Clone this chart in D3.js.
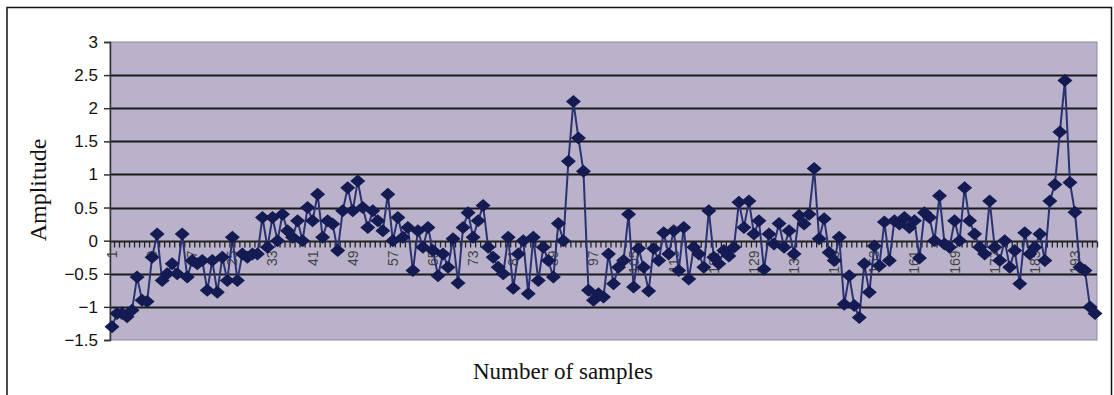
<!DOCTYPE html>
<html>
<head>
<meta charset="utf-8">
<script src="https://cdn.jsdelivr.net/npm/d3@7"></script>
<style>
  body { margin: 0; background: #fff; }
  svg { display: block; }
</style>
</head>
<body>
<svg id="chart" width="1114" height="395"></svg>
<script>
// Amplitude per sample
const amplitude = [
  -1.3, -1.1, -1.1, -1.15, -1.05, -0.55, -0.9, -0.92,
  -0.25, 0.1, -0.6, -0.5, -0.35, -0.5, 0.1, -0.55,
  -0.3, -0.35, -0.3, -0.75, -0.3, -0.78, -0.25, -0.6,
  0.05, -0.6, -0.2, -0.25, -0.2, -0.2, 0.35, -0.1,
  0.35, 0.0, 0.4, 0.15, 0.05, 0.3, 0.0, 0.5,
  0.3, 0.7, 0.05, 0.3, 0.25, -0.15, 0.45, 0.8,
  0.45, 0.9, 0.5, 0.2, 0.45, 0.3, 0.15, 0.7,
  0.0, 0.35, 0.05, 0.2, -0.45, 0.15, -0.1, 0.2,
  -0.15, -0.53, -0.2, -0.4, 0.03, -0.64, 0.2, 0.42,
  0.05, 0.3, 0.53, -0.1, -0.25, -0.4, -0.5, 0.05,
  -0.72, -0.2, 0.0, -0.8, 0.05, -0.6, -0.1, -0.3,
  -0.55, 0.26, 0.0, 1.2, 2.1, 1.55, 1.05, -0.75,
  -0.9, -0.8, -0.85, -0.2, -0.65, -0.4, -0.3, 0.4,
  -0.7, -0.12, -0.4, -0.76, -0.12, -0.3, 0.12, -0.2,
  0.15, -0.45, 0.2, -0.58, -0.1, -0.2, -0.4, 0.45,
  -0.25, -0.35, -0.15, -0.23, -0.1, 0.58, 0.2, 0.6,
  0.1, 0.3, -0.43, 0.1, -0.05, 0.26, -0.1, 0.15,
  -0.2, 0.38, 0.25, 0.4, 1.09, 0.03, 0.33, -0.18,
  -0.3, 0.05, -0.96, -0.53, -0.98, -1.16, -0.35, -0.78,
  -0.08, -0.38, 0.28, -0.3, 0.3, 0.25, 0.35, 0.2,
  0.3, -0.26, 0.42, 0.35, 0.0, 0.68, -0.05, -0.1,
  0.3, 0.0, 0.8, 0.3, 0.1, -0.1, -0.2, 0.6,
  -0.1, -0.3, 0.0, -0.4, -0.15, -0.65, 0.12, -0.2,
  -0.1, 0.1, -0.3, 0.6, 0.85, 1.64, 2.42, 0.88,
  0.43, -0.4, -0.45, -1.0, -1.1
];
const samples = amplitude.map((d, i) => i + 1);
const yTicks = [-1.5, -1, -0.5, 0, 0.5, 1, 1.5, 2, 2.5, 3];
const xLabels = samples.filter(s => (s - 1) % 8 === 0);

const svg = d3.select("#chart");
const plot = { left: 110, right: 1097, top: 42, bottom: 340 };

// outer chart border
svg.append("path")
    .attr("d", "M7,400 V7.5 H1111.5 V400")
    .attr("fill", "none")
    .attr("stroke", "#111")
    .attr("stroke-width", 1.5);

const x = d3.scaleLinear().domain([1, samples.length]).range([112, 1095]);
const y = d3.scaleLinear().domain([-1.5, 3]).range([plot.bottom, plot.top]);

// plot area
svg.append("rect")
    .attr("x", plot.left).attr("y", plot.top)
    .attr("width", plot.right - plot.left).attr("height", plot.bottom - plot.top)
    .attr("fill", "#b9b2ca")
    .attr("stroke", "#8e8aa6")
    .attr("stroke-width", 1);

// gridlines
svg.append("g")
    .selectAll("line")
    .data(yTicks.filter(t => t !== -1.5 && t !== 3 && t !== 0))
    .join("line")
    .attr("x1", plot.left).attr("x2", plot.right)
    .attr("y1", d => Math.round(y(d)) + 0.5).attr("y2", d => Math.round(y(d)) + 0.5)
    .attr("stroke", "#1a1a1a")
    .attr("stroke-width", 1.8);

// y axis
const yAxis = svg.append("g")
    .attr("transform", `translate(${plot.left},0)`)
    .call(d3.axisLeft(y).tickValues(yTicks).tickSize(6).tickFormat(d3.format("")));
yAxis.select(".domain").attr("stroke", "#333").attr("stroke-width", 1.5);
yAxis.selectAll(".tick line").attr("stroke", "#333").attr("stroke-width", 1.5);
yAxis.selectAll("text")
    .attr("font-family", "Liberation Sans, Arial, sans-serif")
    .attr("font-size", 17)
    .attr("fill", "#111")
    .attr("dx", "-3");

// x axis crossing at 0
const x0 = Math.round(y(0)) + 0.5;
const xAxis = svg.append("g").attr("transform", `translate(0,${x0})`);
xAxis.append("line")
    .attr("x1", plot.left).attr("x2", plot.right)
    .attr("stroke", "#222").attr("stroke-width", 2);
xAxis.selectAll(".minor")
    .data(samples)
    .join("line")
    .attr("class", "minor")
    .attr("x1", d => x(d) + 2.5).attr("x2", d => x(d) + 2.5)
    .attr("y1", 0).attr("y2", 6)
    .attr("stroke", "#222").attr("stroke-width", 1.3);
xAxis.selectAll(".lbl")
    .data(xLabels)
    .join("text")
    .attr("class", "lbl")
    .attr("transform", d => `translate(${x(d) + 5},9) rotate(-90)`)
    .attr("text-anchor", "end")
    .attr("font-family", "Liberation Sans, Arial, sans-serif")
    .attr("font-size", 14)
    .attr("fill", "#444")
    .text(d => d);

// series line
const line = d3.line().x((d, i) => x(samples[i])).y(d => y(d));
svg.append("path")
    .datum(amplitude)
    .attr("d", line)
    .attr("fill", "none")
    .attr("stroke", "#2b3272")
    .attr("stroke-width", 2);

// diamond markers
svg.append("g")
    .selectAll("path")
    .data(amplitude)
    .join("path")
    .attr("transform", (d, i) => `translate(${x(samples[i])},${y(d)})`)
    .attr("d", "M0,-6.5 L7.5,0 L0,6.5 L-7.5,0 Z")
    .attr("fill", "#141a52");

// axis titles
svg.append("text")
    .attr("transform", "translate(46,190) rotate(-90)")
    .attr("text-anchor", "middle")
    .attr("font-family", "Liberation Serif, Times New Roman, serif")
    .attr("font-size", 24)
    .attr("fill", "#111")
    .text("Amplitude");

svg.append("text")
    .attr("x", 563).attr("y", 379)
    .attr("text-anchor", "middle")
    .attr("font-family", "Liberation Serif, Times New Roman, serif")
    .attr("font-size", 23)
    .attr("fill", "#111")
    .text("Number of samples");
</script>
</body>
</html>
